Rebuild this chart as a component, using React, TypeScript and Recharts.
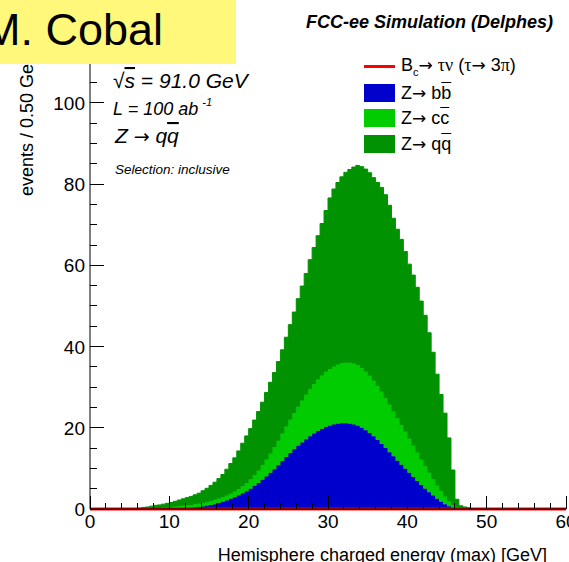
import { ComposedChart, Area, Line, XAxis, YAxis, Legend } from "recharts"

// 0.5 GeV bins from 0 to 60 GeV, events per bin (stacked: bb, cc, qq)
const BIN_WIDTH = 0.5

const zbb = [
  0, 0, 0, 0, 0, 0, 0, 0, 0, 0,
  0, 0, 0, 0, 0, 0, 0, 0, 0, 0,
  0, 0, 0.1, 0.1, 0.2, 0.3, 0.4, 0.5, 0.6, 0.8,
  1.0, 1.2, 1.5, 1.8, 2.1, 2.5, 2.9, 3.4, 3.9, 4.4,
  5.0, 5.7, 6.4, 7.2, 8.0, 8.9, 9.8, 10.8, 11.8, 12.8,
  13.8, 14.7, 15.6, 16.4, 17.2, 17.9, 18.6, 19.2, 19.7, 20.2,
  20.5, 20.8, 21.0, 21.1, 21.1, 21.0, 20.8, 20.5, 20.0, 19.4,
  18.7, 17.9, 17.0, 16.0, 15.0, 14.0, 13.0, 11.9, 10.9, 9.9,
  8.9, 7.9, 6.9, 5.9, 5.0, 4.1, 3.3, 2.5, 1.8, 1.2,
  0.7, 0.3, 0.1, 0, 0, 0, 0, 0, 0, 0,
  0, 0, 0, 0, 0, 0, 0, 0, 0, 0,
  0, 0, 0, 0, 0, 0, 0, 0, 0, 0,
]

const zcc = [
  0, 0, 0, 0, 0, 0, 0, 0, 0, 0,
  0, 0, 0, 0, 0.1, 0.1, 0.2, 0.2, 0.3, 0.4,
  0.5, 0.6, 0.6, 0.7, 0.7, 0.7, 0.8, 0.8, 0.9, 0.9,
  1.0, 1.1, 1.1, 1.1, 1.2, 1.3, 1.4, 1.5, 1.7, 2.0,
  2.3, 2.6, 3.1, 3.6, 4.1, 4.7, 5.4, 6.0, 6.7, 7.5,
  8.2, 8.9, 9.6, 10.3, 11.0, 11.6, 12.2, 12.7, 13.2, 13.6,
  14.0, 14.3, 14.6, 14.8, 14.9, 15.0, 15.0, 14.9, 14.7, 14.4,
  14.1, 13.7, 13.3, 12.9, 12.3, 11.7, 11.0, 10.5, 9.8, 9.1,
  8.4, 7.7, 7.0, 6.3, 5.5, 4.8, 4.0, 3.3, 2.6, 1.9,
  1.2, 0.7, 0.3, 0.2, 0.1, 0, 0, 0, 0, 0,
  0, 0, 0, 0, 0, 0, 0, 0, 0, 0,
  0, 0, 0, 0, 0, 0, 0, 0, 0, 0,
]

const zqq = [
  0, 0, 0, 0, 0, 0, 0, 0, 0, 0,
  0, 0, 0.2, 0.4, 0.4, 0.6, 0.7, 0.8, 0.9, 1.0,
  1.1, 1.3, 1.5, 1.7, 1.9, 2.1, 2.3, 2.6, 3.0, 3.4,
  3.8, 4.3, 4.9, 5.6, 6.5, 7.4, 8.3, 9.4, 10.6, 11.6,
  12.5, 13.6, 14.5, 15.5, 16.6, 17.6, 18.4, 19.5, 20.7, 22.0,
  23.4, 24.9, 26.6, 28.2, 29.8, 31.9, 33.6, 35.4, 37.4, 39.7,
  42.1, 43.7, 44.8, 45.9, 46.9, 47.6, 48.4, 49.2, 49.6, 49.9,
  50.0, 50.0, 50.1, 50.3, 50.1, 49.1, 47.6, 46.5, 45.7, 44.4,
  43.0, 42.0, 40.7, 39.0, 37.2, 34.5, 31.3, 27.4, 23.8, 20.5,
  15.6, 8.6, 2.0, 0.6, 0.4, 0.3, 0.1, 0, 0, 0,
  0, 0, 0, 0, 0, 0, 0, 0, 0, 0,
  0, 0, 0, 0, 0, 0, 0, 0, 0, 0,
]

// signal is invisible at this scale
const bcSignal = [
  0, 0, 0, 0, 0, 0, 0, 0, 0, 0, 0, 0, 0, 0, 0, 0, 0, 0, 0, 0,
  0, 0, 0, 0, 0, 0, 0, 0, 0, 0, 0, 0, 0, 0, 0, 0, 0, 0, 0, 0,
  0, 0, 0, 0, 0, 0, 0, 0, 0, 0, 0, 0, 0, 0, 0, 0, 0, 0, 0, 0,
  0, 0, 0, 0, 0, 0, 0, 0, 0, 0, 0, 0, 0, 0, 0, 0, 0, 0, 0, 0,
  0, 0, 0, 0, 0, 0, 0, 0, 0, 0, 0, 0, 0, 0, 0, 0, 0, 0, 0, 0,
  0, 0, 0, 0, 0, 0, 0, 0, 0, 0, 0, 0, 0, 0, 0, 0, 0, 0, 0, 0,
]

const xTicks = [0, 2, 4, 6, 8, 10, 12, 14, 16, 18, 20, 22, 24, 26, 28, 30,
  32, 34, 36, 38, 40, 42, 44, 46, 48, 50, 52, 54, 56, 58, 60]
const yTicks = [0, 5, 10, 15, 20, 25, 30, 35, 40, 45, 50, 55, 60, 65, 70, 75,
  80, 85, 90, 95, 100, 105, 110]

// step histogram: one point per low bin edge, plus the closing edge at 60
const data = zbb.map((bb, i) => ({
  edge: i * BIN_WIDTH,
  bb,
  cc: zcc[i],
  qq: zqq[i],
  bc: bcSignal[i],
}))
data.push({ edge: zbb.length * BIN_WIDTH, bb: 0, cc: 0, qq: 0, bc: 0 })

const BLUE = "#0000cc"
const LGREEN = "#00cc00"
const DGREEN = "#009200"
const RED = "#ff0000"
const FONT = "'Liberation Sans', Arial, Helvetica, sans-serif"

function TickMark(props: { x1: number; y1: number; x2: number; y2: number }) {
  return <line {...props} stroke="#000" strokeWidth={1} shapeRendering="crispEdges" />
}

function BottomTick(props: any) {
  const { x, y, payload } = props
  const v = payload.value as number
  const major = v % 10 === 0
  return (
    <g>
      <TickMark x1={x} x2={x} y1={y} y2={y - (major ? 13 : 6.5)} />
      {major && (
        <text x={x} y={y + 19} textAnchor="middle" fontSize={19} fill="#000">{v}</text>
      )}
    </g>
  )
}

function TopTick(props: any) {
  const { x, y, payload } = props
  const major = (payload.value as number) % 10 === 0
  return <TickMark x1={x} x2={x} y1={y} y2={y + (major ? 13 : 6.5)} />
}

function LeftTick(props: any) {
  const { x, y, payload } = props
  const v = payload.value as number
  const major = v % 20 === 0
  return (
    <g>
      <TickMark x1={x} x2={x + (major ? 14 : 7)} y1={y} y2={y} />
      {major && (
        <text x={x - 5} y={y + 7} textAnchor="end" fontSize={19} fill="#000">{v}</text>
      )}
    </g>
  )
}

function RightTick(props: any) {
  const { x, y, payload } = props
  const major = (payload.value as number) % 20 === 0
  return <TickMark x1={x} x2={x - (major ? 14 : 7)} y1={y} y2={y} />
}

const greek = { fontFamily: "'Liberation Serif', 'DejaVu Serif', serif" }
const arrow = { fontFamily: "'DejaVu Sans', sans-serif", fontSize: 17 }
const bar = { textDecoration: "overline" }

const legendRows = [
  { key: "bc", color: RED, line: true, label: <>B<sub style={{ fontSize: 11 }}>c</sub><span style={arrow}>→</span> <span style={greek}>τν</span> (<span style={greek}>τ</span><span style={arrow}>→</span> 3<span style={greek}>π</span>)</> },
  { key: "bb", color: BLUE, line: false, label: <>Z<span style={arrow}>→</span> b<span style={bar}>b</span></> },
  { key: "cc", color: LGREEN, line: false, label: <>Z<span style={arrow}>→</span> c<span style={bar}>c</span></> },
  { key: "qq", color: DGREEN, line: false, label: <>Z<span style={arrow}>→</span> q<span style={bar}>q</span></> },
]

function HistLegend() {
  return (
    <div style={{ fontFamily: FONT, fontSize: 18, color: "#000" }}>
      {legendRows.map((r) => (
        <div key={r.key} style={{ display: "flex", alignItems: "center", height: 25.7 }}>
          {r.line ? (
            <div style={{ width: 31, height: 3, background: r.color, marginRight: 6 }} />
          ) : (
            <div style={{ width: 31, height: 18, background: r.color, marginRight: 6 }} />
          )}
          <span style={{ lineHeight: 1, whiteSpace: "nowrap" }}>{r.label}</span>
        </div>
      ))}
    </div>
  )
}

export default function App() {
  return (
    <div style={{ position: "absolute", left: 0, top: 0, width: 569, height: 562, overflow: "hidden", background: "#fff", fontFamily: FONT }}>
      <ComposedChart
        width={569}
        height={562}
        data={data}
        margin={{ top: 42, right: 3, left: 40, bottom: 23 }}
      >
        <XAxis
          xAxisId="bottom"
          dataKey="edge"
          type="number"
          domain={[0, 60]}
          ticks={xTicks}
          interval={0}
          height={30}
          tickSize={0}
          tickMargin={0}
          tickLine={false}
          axisLine={{ stroke: "#000", strokeWidth: 1 }}
          tick={<BottomTick />}
        />
        <XAxis
          xAxisId="top"
          orientation="top"
          dataKey="edge"
          type="number"
          domain={[0, 60]}
          ticks={xTicks}
          interval={0}
          height={0}
          tickSize={0}
          tickMargin={0}
          tickLine={false}
          axisLine={{ stroke: "#000", strokeWidth: 1 }}
          tick={<TopTick />}
        />
        <YAxis
          yAxisId="left"
          type="number"
          domain={[0, 115]}
          ticks={yTicks}
          interval={0}
          width={50}
          tickSize={0}
          tickMargin={0}
          tickLine={false}
          axisLine={{ stroke: "#000", strokeWidth: 1 }}
          tick={<LeftTick />}
        />
        <YAxis
          yAxisId="right"
          orientation="right"
          type="number"
          domain={[0, 115]}
          ticks={yTicks}
          interval={0}
          width={0}
          tickSize={0}
          tickMargin={0}
          tickLine={false}
          axisLine={{ stroke: "#000", strokeWidth: 1 }}
          tick={<RightTick />}
        />
        <Area xAxisId="bottom" yAxisId="left" stackId="z" type="stepAfter" dataKey="bb" name="Z→ bb"
          fill={BLUE} fillOpacity={1} stroke={BLUE} strokeWidth={1} isAnimationActive={false} />
        <Area xAxisId="bottom" yAxisId="left" stackId="z" type="stepAfter" dataKey="cc" name="Z→ cc"
          fill={LGREEN} fillOpacity={1} stroke={LGREEN} strokeWidth={1} isAnimationActive={false} />
        <Area xAxisId="bottom" yAxisId="left" stackId="z" type="stepAfter" dataKey="qq" name="Z→ qq"
          fill={DGREEN} fillOpacity={1} stroke={DGREEN} strokeWidth={1} isAnimationActive={false} />
        <Line xAxisId="top" yAxisId="right" type="stepAfter" dataKey="bc" name="Bc→ τν"
          stroke={RED} strokeWidth={3} dot={false} isAnimationActive={false} />
        <Legend
          layout="vertical"
          align="center"
          verticalAlign="middle"
          content={<HistLegend />}
          wrapperStyle={{ top: 54, left: 364, width: 200, height: 104 }}
        />
      </ComposedChart>

      <svg width={569} height={562} style={{ position: "absolute", left: 0, top: 0, pointerEvents: "none" }}>
        <text x={553} y={28} textAnchor="end" fontSize={18} fontWeight="bold" fontStyle="italic" fill="#000">
          FCC-ee Simulation (Delphes)
        </text>
        <text x={547} y={561} textAnchor="end" fontSize={18} fill="#000">
          Hemisphere charged energy (max) [GeV]
        </text>
        <text transform="rotate(-90)" x={-196} y={33} fontSize={18} fill="#000">
          events / 0.50 GeV
        </text>

        <g fontStyle="italic" fill="#000">
          <text x={113} y={88} fontSize={21}>
            √<tspan style={{ textDecoration: "overline" }}>s</tspan> = 91.0 GeV
          </text>
          <text x={113} y={115} fontSize={18}>
            L = 100 ab<tspan fontSize={11} dx={4} dy={-9}>-1</tspan>
          </text>
          <text x={115} y={143} fontSize={21}>
            Z <tspan fontStyle="normal" fontFamily="'DejaVu Sans', sans-serif" fontSize={19}>→</tspan> q<tspan style={{ textDecoration: "overline" }}>q</tspan>
          </text>
          <text x={115} y={174} fontSize={13.5}>Selection: inclusive</text>
        </g>

        <rect x={0} y={0} width={236} height={64} fill="#fff87a" />
        <text x={-17} y={45} fontSize={45} fill="#000">M. Cobal</text>
      </svg>
    </div>
  )
}
